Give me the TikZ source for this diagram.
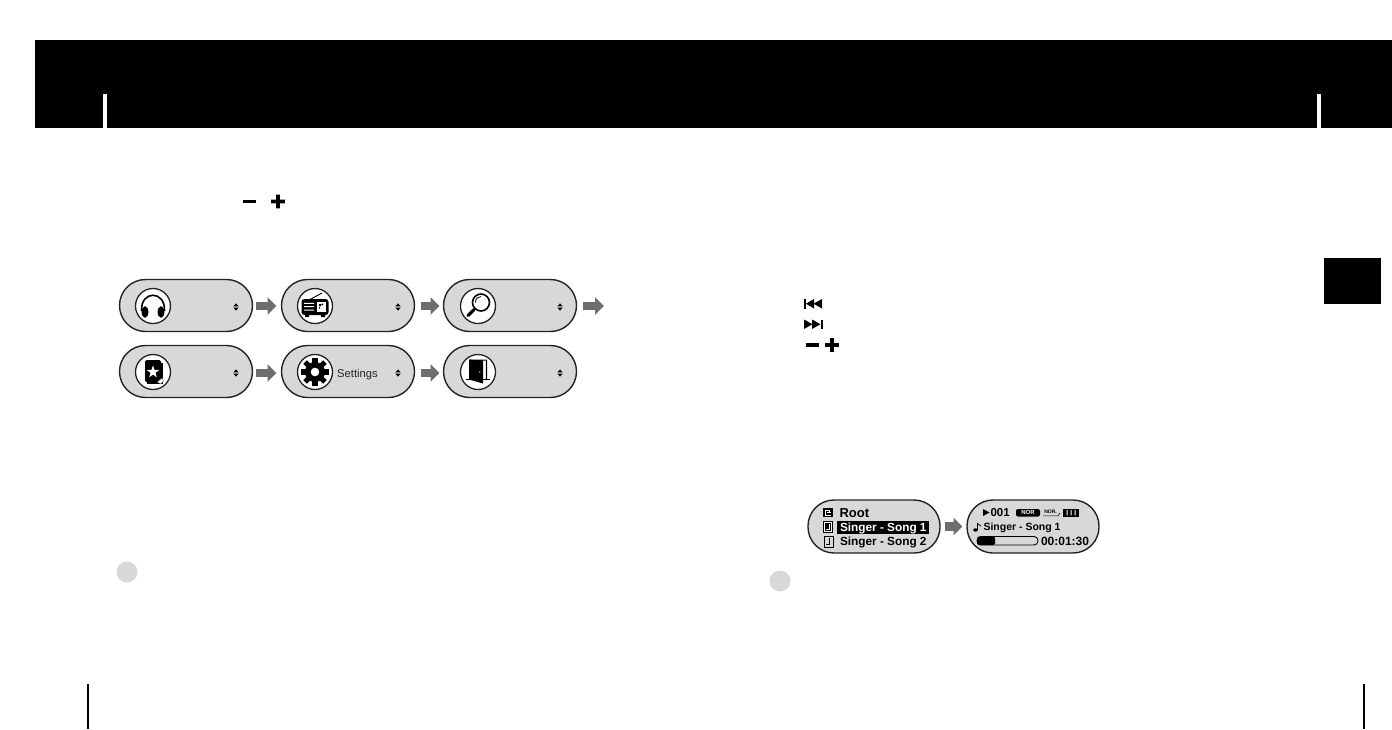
\documentclass[tikz,border=0pt]{standalone}
\usepackage{fontspec}
\setmainfont{Liberation Sans}
\usetikzlibrary{arrows.meta}
\definecolor{pillgray}{HTML}{D8D8D8}
\definecolor{arrowgray}{HTML}{6E6E6E}
\definecolor{edgegray}{HTML}{232323}
\tikzset{
  x=1pt,y=-1pt,
  pill/.style={draw=edgegray,line width=1.4pt,fill=pillgray,rectangle,rounded corners=26pt,minimum width=133pt,minimum height=52pt,inner sep=0pt,outer sep=0pt},
  screen/.style={draw=edgegray,line width=1.4pt,fill=pillgray,rectangle,rounded corners=26pt,minimum width=132pt,minimum height=53pt,inner sep=0pt,outer sep=0pt},
  flowarrow/.style={draw=arrowgray,line width=8.5pt,-{Triangle[length=9pt,width=17pt]}},
  iconring/.style={draw=edgegray,line width=1.3pt,fill=white,circle,minimum size=35pt,inner sep=0pt,outer sep=0pt},
  lcd/.style={inner sep=0pt,outer sep=0pt,anchor=base west,text=black,font=\fontsize{11.8}{12}\selectfont\bfseries},
  lcdwhite/.style={lcd,text=white},
  mark dot/.style={circle,fill=pillgray,minimum size=21pt,inner sep=0pt,outer sep=0pt},
}
\newcommand{\updown}[2]{\fill[black] (#1-2.6,#2-0.7) -- (#1+2.6,#2-0.7) -- (#1,#2-3.6) -- cycle (#1-2.6,#2+0.7) -- (#1+2.6,#2+0.7) -- (#1,#2+3.6) -- cycle;}
\newcommand{\minusplus}[3]{\fill[black] (#1,#2-1.7) rectangle (#1+12.5,#2+1.7);
  \fill[black] (#3-1.9,#2-6.8) rectangle (#3+1.9,#2+6.8) (#3-6.8,#2-1.8) rectangle (#3+6.8,#2+1.8);}
\begin{document}
\begin{tikzpicture}
\useasboundingbox (0,0) rectangle (1392,729);
% header band
\fill[black] (35,40) rectangle (1392,128);
\fill[white] (103,94) rectangle (107,128);
\fill[white] (1317,94) rectangle (1321,128);
% side tab
\fill[black] (1324,258) rectangle (1381,304);
% page rules
\fill[black] (87,684) rectangle (89,729);
\fill[black] (1363,684) rectangle (1365,729);
% minus / plus
\minusplus{243}{201.5}{278}
\minusplus{806}{345}{832}
% skip icons
\fill[black] (804,299) rectangle (805.5,308.5);
\fill[black] (806,303.7) -- (814,299) -- (814,308.5) -- cycle;
\fill[black] (813.5,303.7) -- (822,299) -- (822,308.5) -- cycle;
\fill[black] (821,319.5) rectangle (822.5,329);
\fill[black] (804,319.5) -- (812.5,324.2) -- (804,329) -- cycle;
\fill[black] (812,319.5) -- (820.5,324.2) -- (812,329) -- cycle;
% menu pills
\node[pill] (p1) at (186,305.5) {};
\node[pill] (p2) at (348,305.5) {};
\node[pill] (p3) at (510,305.5) {};
\node[pill] (p4) at (186,371.5) {};
\node[pill] (p5) at (348,371.5) {};
\node[pill] (p6) at (510,371.5) {};
\coordinate (free) at (604,306);
% connectors
\draw[flowarrow,shorten <=3pt,shorten >=5pt] ([yshift=-0.5pt]p1.east) -- ([yshift=-0.5pt]p2.west);
\draw[flowarrow,shorten <=6pt,shorten >=4pt] ([yshift=-0.5pt]p2.east) -- ([yshift=-0.5pt]p3.west);
\draw[flowarrow,shorten <=6pt] ([yshift=-0.5pt]p3.east) -- (free);
\draw[flowarrow,shorten <=3pt,shorten >=5pt] ([yshift=-1.5pt]p4.east) -- ([yshift=-1.5pt]p5.west);
\draw[flowarrow,shorten <=6pt,shorten >=4pt] ([yshift=-1.5pt]p5.east) -- ([yshift=-1.5pt]p6.west);
% icon rings
\node[iconring] (i1) at (153,306) {};
\node[iconring] (i2) at (315,306) {};
\node[iconring] (i3) at (478,306) {};
\node[iconring] (i4) at (153,372) {};
\node[iconring] (i5) at (315,372) {};
\node[iconring] (i6) at (478,372) {};
% headphones
\begin{scope}[shift={(153,306)}]
\draw[black,line width=1.6pt] (-11.5,5) .. controls (-12.5,-16) and (12.5,-16) .. (11.5,5);
\fill[black] (-8,6) ellipse [x radius=3.4,y radius=5.8];
\fill[black] (8,6) ellipse [x radius=3.4,y radius=5.8];
\end{scope}
% radio
\begin{scope}[shift={(315,306)}]
\draw[black,line width=0.9pt] (-6,-6) -- (7,-13);
\fill[black,rounded corners=3pt] (-13.5,-7) rectangle (13.5,9);
\fill[black] (-10,8) rectangle (-6,11) (6,8) rectangle (10,11);
\fill[white] (-11,-3.2) rectangle (-1,-2.2) (-11,0.2) rectangle (-1,1.2) (-11,3.6) rectangle (-1,4.6);
\fill[white] (1.5,-4) rectangle (11,6);
\fill[black] (4,-2) rectangle (6,0) (6.5,-2.5) rectangle (8,-1) (4,1) rectangle (5.2,2.5);
\end{scope}
% magnifier
\begin{scope}[shift={(478,306)}]
\draw[black,line width=1.6pt] (3,-3.5) circle [radius=8.5];
\draw[black,line width=0.8pt] (-2.5,-3.5) .. controls (-2.5,-7.5) and (0,-9.5) .. (3,-9.5);
\draw[black,line width=3.2pt,line cap=round] (-4,3.5) -- (-10,9.5);
\end{scope}
% star book
\begin{scope}[shift={(153,372)}]
\fill[black,rounded corners=1.5pt] (-8,-12) rectangle (8,10);
\fill[black] (-6,10) rectangle (9.5,12.3);
\fill[black] (8,-9) rectangle (9.5,12);
\fill[white] (270:6.5)
  \foreach \a in {1,2,3,4,5,6,7,8,9}{ -- ({270+36*\a}:{mod(\a,2)==1 ? 2.6 : 6.5}) } -- cycle;
\fill[white,draw=black,line width=0.3pt] (4,10) -- (9.5,5.5) -- (10.3,9.5) -- (7.5,12) -- cycle;
\end{scope}
% gear
\begin{scope}[shift={(315,372)}]
\fill[black] (0,0) circle [radius=10];
\foreach \a in {0,45,90,135}{
  \fill[black,rotate=\a] (-2.6,-14) rectangle (2.6,14);
}
\fill[white] (0,0) circle [radius=4.3];
\end{scope}
% door
\begin{scope}[shift={(478,372)}]
\fill[black] (-9,-12.5) -- (9,-12.5) -- (9,8) -- (7.8,8) -- (7.8,-11.3) -- (5,-11.3) -- (-9,-8) -- cycle;
\fill[black] (-9,-12.5) -- (5,-11) -- (5,11.5) -- (-9,7.5) -- cycle;
\fill[white] (1.8,0) circle [radius=0.7];
\fill[black] (-12,6.8) rectangle (11.5,8);
\end{scope}
% scroll marks
\updown{236}{307}
\updown{398}{307}
\updown{560}{307}
\updown{236}{373}
\updown{398}{373}
\updown{560}{373}
\node[inner sep=0pt,anchor=base west,text=edgegray,font=\fontsize{11.2}{12}\selectfont] (settings) at (337,377) {Settings};
% note dots
\node[mark dot] (d1) at (127,572) {};
\node[mark dot] (d2) at (780,581) {};
% LCD screens
\node[screen] (s1) at (874,526.5) {};
\node[screen] (s2) at (1033,526.5) {};
\draw[flowarrow,shorten <=4.5pt,shorten >=4.5pt] (s1.east) -- (s2.west);
% list screen contents
\fill[black] (823,508) rectangle (833,517);
\draw[white,line width=0.8pt] (825,510) -- (829,510) -- (829,513) (825,510) -- (825,515) -- (831,515) (827,512.5) -- (831,512.5);
\node[lcd,font=\fontsize{13}{13}\selectfont\bfseries] (root) at (839.5,517) {Root};
\fill[black] (837,520.5) rectangle (929,533.5);
\fill[black] (823,521) rectangle (833,533);
\draw[white,line width=0.7pt] (824.3,522.3) rectangle (831.7,531.7);
\draw[white,line width=0.9pt] (829,524) -- (829,529.5) -- (826,529.5);
\node[lcdwhite] (song1) at (840,531) {Singer - Song 1};
\draw[black,line width=0.8pt] (824,536) rectangle (833,547);
\draw[black,line width=0.8pt] (829.5,538) -- (829.5,544.5) -- (826,544.5);
\node[lcd] (song2) at (840,545.3) {Singer - Song 2};
% playback screen contents
\fill[black] (983,509) -- (989.5,512.5) -- (983,516) -- cycle;
\node[lcd,font=\fontsize{11.5}{12}\selectfont\bfseries] (num) at (990.5,516.5) {001};
\fill[black,rounded corners=2pt] (1016,509) rectangle (1040,516.5);
\node[text=white,inner sep=0pt,font=\fontsize{6}{6}\selectfont\bfseries] (nor1) at (1028,512.8) {NOR};
\node[text=black,inner sep=0pt,font=\fontsize{5}{5}\selectfont\bfseries] (nor2) at (1050.5,512) {NOR.};
\draw[black,line width=0.6pt] (1043,515.8) -- (1058,515.8) -- (1060,513);
\fill[black] (1063,509) rectangle (1079,516.5);
\fill[white] (1066.5,510.2) rectangle (1067.5,515.3) (1070.5,510.2) rectangle (1071.5,515.3) (1074.5,510.2) rectangle (1075.5,515.3);
% note glyph
\fill[black] (975.5,530) ellipse [x radius=2.3,y radius=1.7];
\draw[black,line width=0.8pt] (977.5,530) -- (977.5,523.5) -- (981,526);
\node[lcd,font=\fontsize{10.5}{12}\selectfont\bfseries] (song3) at (983.5,530.5) {Singer - Song 1};
\draw[black,line width=0.9pt,rounded corners=4pt,fill=pillgray] (977,536.5) rectangle (1038,545);
\fill[black,rounded corners=1.5pt] (977,536.5) rectangle (995,545);
\node[lcd,font=\fontsize{12}{12}\selectfont\bfseries] (time) at (1041,545.3) {00:01:30};
\end{tikzpicture}
\end{document}
